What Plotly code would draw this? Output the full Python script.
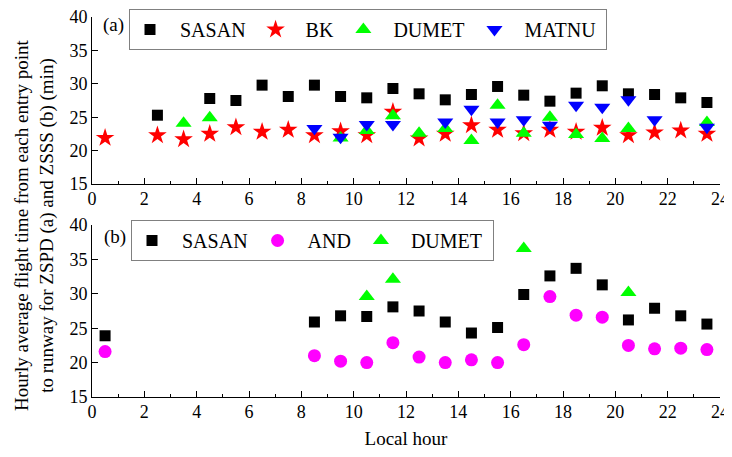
import plotly.graph_objects as go

# Panel (a) ZSPD
a_sasan_x = [2.5, 4.5, 5.5, 6.5, 7.5, 8.5, 9.5, 10.5, 11.5, 12.5, 13.5, 14.5, 15.5, 16.5, 17.5, 18.5, 19.5, 20.5, 21.5, 22.5, 23.5]
a_sasan_y = [25.3, 27.8, 27.5, 29.8, 28.1, 29.8, 28.1, 27.9, 29.3, 28.5, 27.6, 28.4, 29.6, 28.3, 27.4, 28.6, 29.7, 28.5, 28.4, 27.9, 27.2]
a_bk_x = [0.5, 2.5, 3.5, 4.5, 5.5, 6.5, 7.5, 8.5, 9.5, 10.5, 11.5, 12.5, 13.5, 14.5, 15.5, 16.5, 17.5, 18.5, 19.5, 20.5, 21.5, 22.5, 23.5]
a_bk_y = [21.9, 22.3, 21.7, 22.5, 23.5, 22.8, 23.1, 22.3, 22.9, 22.3, 25.8, 21.8, 22.5, 23.8, 23.1, 22.6, 23.1, 22.8, 23.4, 22.3, 22.7, 23.0, 22.5]
a_dumet_x = [3.5, 4.5, 9.5, 10.5, 11.5, 12.5, 13.5, 14.5, 15.5, 16.5, 17.5, 18.5, 19.5, 20.5, 23.5]
a_dumet_y = [24.1, 24.9, 21.9, 23.0, 25.2, 22.6, 23.3, 21.5, 26.8, 22.6, 25.0, 22.4, 21.8, 23.3, 24.2]
a_matnu_x = [8.5, 9.5, 10.5, 11.5, 13.5, 14.5, 15.5, 16.5, 17.5, 18.5, 19.5, 20.5, 21.5, 23.5]
a_matnu_y = [23.3, 22.0, 23.9, 23.9, 24.3, 26.2, 24.3, 24.6, 23.8, 26.8, 26.5, 27.6, 24.6, 23.5]

# Panel (b) ZSSS
b_sasan_x = [0.5, 8.5, 9.5, 10.5, 11.5, 12.5, 13.5, 14.5, 15.5, 16.5, 17.5, 18.5, 19.5, 20.5, 21.5, 22.5, 23.5]
b_sasan_y = [23.9, 25.9, 26.8, 26.7, 28.1, 27.5, 25.9, 24.3, 25.1, 29.9, 32.6, 33.7, 31.3, 26.2, 27.9, 26.8, 25.6]
b_and_x = [0.5, 8.5, 9.5, 10.5, 11.5, 12.5, 13.5, 14.5, 15.5, 16.5, 17.5, 18.5, 19.5, 20.5, 21.5, 22.5, 23.5]
b_and_y = [21.6, 21.0, 20.2, 20.0, 22.9, 20.8, 20.0, 20.4, 20.0, 22.6, 29.6, 26.9, 26.6, 22.5, 22.0, 22.1, 21.9]
b_dumet_x = [10.5, 11.5, 16.5, 20.5]
b_dumet_y = [29.6, 32.1, 36.6, 30.2]

x_ticks = list(range(0, 25, 2))
y_ticks = [15, 20, 25, 30, 35, 40]

FONT = "Liberation Serif"
PAD = "\u00a0\u00a0"

fig = go.Figure()

def add(x, y, name, symbol, color, size, xa, ya, legend):
    fig.add_trace(go.Scatter(
        x=x, y=y, mode="markers", name=PAD + name + "\u00a0",
        marker=dict(symbol=symbol, color=color, size=size, line=dict(width=0)),
        xaxis=xa, yaxis=ya, legend=legend, cliponaxis=False))

add(a_sasan_x, a_sasan_y, "SASAN", "square", "black", 11, "x", "y", "legend")
add(a_bk_x, a_bk_y, "BK", "star", "red", 14, "x", "y", "legend")
add(a_dumet_x, a_dumet_y, "DUMET", "triangle-up", "#00ff00", 14, "x", "y", "legend")
add(a_matnu_x, a_matnu_y, "MATNU", "triangle-down", "#0000ff", 14, "x", "y", "legend")

add(b_sasan_x, b_sasan_y, "SASAN", "square", "black", 11, "x2", "y2", "legend2")
add(b_and_x, b_and_y, "AND", "circle", "#ff00ff", 13, "x2", "y2", "legend2")
add(b_dumet_x, b_dumet_y, "DUMET", "triangle-up", "#00ff00", 14, "x2", "y2", "legend2")

xcommon = dict(range=[0, 24], tickvals=x_ticks, ticks="inside", ticklen=6, tickcolor="black",
               showline=True, linecolor="black", linewidth=1, showgrid=False, zeroline=False,
               automargin=False, ticklabelstandoff=-2, ticklabeloverflow="allow",
               minor=dict(dtick=1, tick0=0, ticks="inside", ticklen=3, tickcolor="black"),
               tickfont=dict(family=FONT, size=18, color="black"))
ycommon = dict(range=[15, 40], tickvals=y_ticks, ticks="inside", ticklen=6, tickcolor="black",
               showline=True, linecolor="black", linewidth=1, showgrid=False, zeroline=False,
               automargin=False, ticklabeloverflow="allow",
               tickfont=dict(family=FONT, size=18, color="black"))

# page has an 8px body margin, so the figure is drawn smaller and shifted
OFF = 8
W = 732 - OFF
H = 457 - 2 * OFF
top_px, bot_px = 17, 397        # positions in the reference picture
left_px, right_px = 92, 720
ph = bot_px - top_px
pw = right_px - left_px

def py(p):
    return (bot_px - p) / ph

def px(p):
    return (p - left_px) / pw

def cx(p):
    return (p - OFF) / W

def cy(p):
    return 1 - (p - OFF) / H

legend_common = dict(orientation="h", bordercolor="#808080", borderwidth=1, bgcolor="white",
                     font=dict(family=FONT, size=20, color="black"), xanchor="left", yanchor="top",
                     xref="container", yref="container",
                     itemsizing="trace", tracegroupgap=0)

fig.update_layout(
    width=W, height=H,
    margin=dict(l=left_px - OFF, r=W - (right_px - OFF), t=top_px - OFF, b=H - (bot_px - OFF), autoexpand=False),
    plot_bgcolor="white", paper_bgcolor="white",
    font=dict(family=FONT, color="black"),
    xaxis=dict(domain=[0, 1], anchor="y", **xcommon),
    yaxis=dict(domain=[py(184), 1], anchor="x", **ycommon),
    xaxis2=dict(domain=[0, 1], anchor="y2", title=dict(text="Local hour", font=dict(family=FONT, size=19), standoff=13), **xcommon),
    yaxis2=dict(domain=[0, py(225)], anchor="x2", **ycommon),
    legend=dict(x=cx(129), y=cy(9), **legend_common),
    legend2=dict(x=cx(131), y=cy(220), **legend_common),
    annotations=[
        dict(text="(a)", x=px(113), y=py(25), xref="paper", yref="paper", showarrow=False,
             xanchor="center", yanchor="middle",
             font=dict(family=FONT, size=19, color="black")),
        dict(text="(b)", x=px(115), y=py(237), xref="paper", yref="paper", showarrow=False,
             xanchor="center", yanchor="middle",
             font=dict(family=FONT, size=19, color="black")),
        dict(text="Hourly average flight time from each entry point<br>to runway for ZSPD (a) and ZSSS (b) (min)",
             x=px(35), y=py(225), xref="paper", yref="paper", showarrow=False, textangle=-90,
             xanchor="center", yanchor="middle",
             font=dict(family=FONT, size=19, color="black")),
    ],
)

fig.write_html("out.html")
